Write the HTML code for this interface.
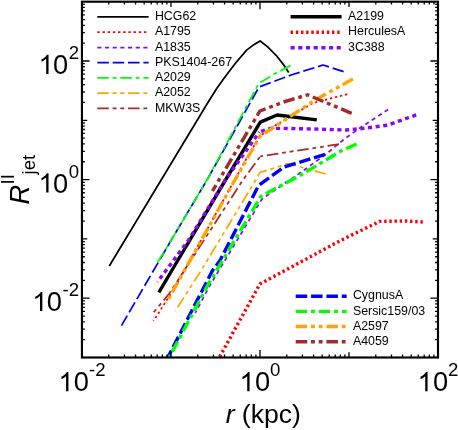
<!DOCTYPE html>
<html><head><meta charset="utf-8"><title>R_jet vs r</title>
<style>
html,body{margin:0;padding:0;background:#fff;}
body{width:458px;height:430px;overflow:hidden;}
svg{display:block;will-change:transform;}
text{font-family:"Liberation Sans",sans-serif;fill:#000;}
.c{fill:none;stroke-linecap:butt;stroke-linejoin:round;}
.t{stroke:#000;stroke-width:1.3;}
</style></head><body>
<svg width="458" height="430" viewBox="0 0 458 430">
<defs><clipPath id="cp"><rect x="81.95" y="1.70" width="356.05" height="355.80"/></clipPath></defs>
<g clip-path="url(#cp)">
<path class="c" d="M288.7,72.6 L283.1,64.1 L276.1,55.3 L267.4,46.6 L260.1,41.0 L252.6,45.6 L246.6,50.1 L236.0,62.5 L225.5,76.3 L216.7,88.5 L207.0,104.0 L109.3,266.0" stroke="#000" stroke-width="1.75"/>
<path class="c" d="M347.3,94.2 L313.0,103.0 L275.3,125.4 L259.9,136.0 L246.6,158.5 L174.2,288.5 L153.4,321.1" stroke="#ff0000" stroke-width="1.75" stroke-dasharray="2.40,2.78"/>
<path class="c" d="M388.1,109.6 L359.8,128.0 L345.0,138.6 L326.4,153.8 L307.8,167.5 L262.0,199.0 L210.0,285.2 L195.2,313.0" stroke="#8808f6" stroke-width="1.75" stroke-dasharray="4.10,3.58"/>
<path class="c" d="M343.6,71.6 L323.0,65.0 L291.0,75.0 L259.0,87.0 L207.0,180.0 L171.3,240.0 L120.4,327.4" stroke="#0000ff" stroke-width="1.75" stroke-dasharray="11.52,3.84"/>
<path class="c" d="M290.5,65.6 L274.6,73.8 L258.8,83.5 L207.0,180.0 L171.3,240.0 L155.8,265.3" stroke="#00ff00" stroke-width="1.75" stroke-dasharray="11.52,3.84,3.84,3.84"/>
<path class="c" d="M325.7,174.0 L288.6,163.6 L259.9,172.4 L255.8,180.0 L201.4,270.0 L175.3,311.0" stroke="#ffa500" stroke-width="1.75" stroke-dasharray="11.52,3.84,3.84,3.84,3.84,3.84"/>
<path class="c" d="M339.0,144.2 L260.3,156.3" stroke="#a52a2a" stroke-width="1.75" stroke-dasharray="11.52,3.84,3.84,3.84,3.84,3.84"/>
<path class="c" d="M260.3,156.3 L242.8,180.2 L204.4,239.5 L169.3,293.5 L153.8,312.2" stroke="#a52a2a" stroke-width="1.75" stroke-dasharray="11.52,3.84,3.84,3.84,3.84,3.84" stroke-dashoffset="22.20"/>
<path class="c" d="M316.8,119.9 L277.1,115.0 L260.3,122.1 L225.5,180.0 L172.1,270.0 L158.9,292.4" stroke="#000" stroke-width="3.40"/>
<path class="c" d="M422.8,222.0 L406.0,221.0 L379.7,221.4 L340.0,240.8 L320.0,251.6 L259.9,284.0 L240.0,320.0 L219.3,357.5" stroke="#ff0000" stroke-width="3.40" stroke-dasharray="2.40,2.78"/>
<path class="c" d="M416.2,114.9 L387.5,125.2 L362.0,128.6 L346.0,130.0 L320.0,129.2 L282.0,128.3 L270.0,128.5 L259.4,132.0" stroke="#8808f6" stroke-width="3.40" stroke-dasharray="4.10,3.58"/>
<path class="c" d="M259.4,132.0 L225.3,180.0 L188.6,240.0 L157.4,282.1" stroke="#8808f6" stroke-width="3.40" stroke-dasharray="4.10,3.58" stroke-dashoffset="3.20"/>
<path class="c" d="M325.0,154.4 L284.2,167.0 L258.6,185.5 L220.0,260.5 L212.8,270.0 L167.8,357.5" stroke="#0000ff" stroke-width="3.40" stroke-dasharray="11.52,3.84"/>
<path class="c" d="M356.6,144.0 L340.0,151.5 L308.3,170.6 L293.7,178.8 L260.8,196.5 L207.7,285.2 L169.2,357.5" stroke="#00ff00" stroke-width="3.40" stroke-dasharray="11.52,3.84,3.84,3.84"/>
<path class="c" d="M352.8,79.1 L315.0,100.0 L259.9,136.4 L234.9,180.0 L184.7,270.0 L166.3,302.9" stroke="#ffa500" stroke-width="3.40" stroke-dasharray="11.52,3.84,3.84,3.84,3.84,3.84"/>
<path class="c" d="M351.7,113.4 L307.6,94.8 L283.7,102.0 L259.9,111.0 L212.5,191.0" stroke="#a52a2a" stroke-width="3.40" stroke-dasharray="11.52,3.84,3.84,3.84,3.84,3.84"/>
</g>
<path class="t" fill="none" d="M108.75,357.50v-2.90 M108.75,1.70v2.90 M124.42,357.50v-2.90 M124.42,1.70v2.90 M135.54,357.50v-2.90 M135.54,1.70v2.90 M144.17,357.50v-2.90 M144.17,1.70v2.90 M151.22,357.50v-2.90 M151.22,1.70v2.90 M157.17,357.50v-2.90 M157.17,1.70v2.90 M162.34,357.50v-2.90 M162.34,1.70v2.90 M166.89,357.50v-2.90 M166.89,1.70v2.90 M170.96,357.50v-5.30 M170.96,1.70v5.30 M197.76,357.50v-2.90 M197.76,1.70v2.90 M213.43,357.50v-2.90 M213.43,1.70v2.90 M224.55,357.50v-2.90 M224.55,1.70v2.90 M233.18,357.50v-2.90 M233.18,1.70v2.90 M240.23,357.50v-2.90 M240.23,1.70v2.90 M246.19,357.50v-2.90 M246.19,1.70v2.90 M251.35,357.50v-2.90 M251.35,1.70v2.90 M255.90,357.50v-2.90 M255.90,1.70v2.90 M259.98,357.50v-7.60 M259.98,1.70v7.60 M286.77,357.50v-2.90 M286.77,1.70v2.90 M302.44,357.50v-2.90 M302.44,1.70v2.90 M313.57,357.50v-2.90 M313.57,1.70v2.90 M322.19,357.50v-2.90 M322.19,1.70v2.90 M329.24,357.50v-2.90 M329.24,1.70v2.90 M335.20,357.50v-2.90 M335.20,1.70v2.90 M340.36,357.50v-2.90 M340.36,1.70v2.90 M344.91,357.50v-2.90 M344.91,1.70v2.90 M348.99,357.50v-5.30 M348.99,1.70v5.30 M375.78,357.50v-2.90 M375.78,1.70v2.90 M391.46,357.50v-2.90 M391.46,1.70v2.90 M402.58,357.50v-2.90 M402.58,1.70v2.90 M411.20,357.50v-2.90 M411.20,1.70v2.90 M418.25,357.50v-2.90 M418.25,1.70v2.90 M424.21,357.50v-2.90 M424.21,1.70v2.90 M429.37,357.50v-2.90 M429.37,1.70v2.90 M433.93,357.50v-2.90 M433.93,1.70v2.90 M81.95,339.65h2.90 M438.00,339.65h-2.90 M81.95,329.21h2.90 M438.00,329.21h-2.90 M81.95,321.80h2.90 M438.00,321.80h-2.90 M81.95,316.05h2.90 M438.00,316.05h-2.90 M81.95,311.36h2.90 M438.00,311.36h-2.90 M81.95,307.39h2.90 M438.00,307.39h-2.90 M81.95,303.95h2.90 M438.00,303.95h-2.90 M81.95,300.91h2.90 M438.00,300.91h-2.90 M81.95,298.20h7.60 M438.00,298.20h-7.60 M81.95,280.35h2.90 M438.00,280.35h-2.90 M81.95,269.91h2.90 M438.00,269.91h-2.90 M81.95,262.50h2.90 M438.00,262.50h-2.90 M81.95,256.75h2.90 M438.00,256.75h-2.90 M81.95,252.06h2.90 M438.00,252.06h-2.90 M81.95,248.09h2.90 M438.00,248.09h-2.90 M81.95,244.65h2.90 M438.00,244.65h-2.90 M81.95,241.61h2.90 M438.00,241.61h-2.90 M81.95,238.90h5.30 M438.00,238.90h-5.30 M81.95,221.05h2.90 M438.00,221.05h-2.90 M81.95,210.61h2.90 M438.00,210.61h-2.90 M81.95,203.20h2.90 M438.00,203.20h-2.90 M81.95,197.45h2.90 M438.00,197.45h-2.90 M81.95,192.76h2.90 M438.00,192.76h-2.90 M81.95,188.79h2.90 M438.00,188.79h-2.90 M81.95,185.35h2.90 M438.00,185.35h-2.90 M81.95,182.31h2.90 M438.00,182.31h-2.90 M81.95,179.60h7.60 M438.00,179.60h-7.60 M81.95,161.75h2.90 M438.00,161.75h-2.90 M81.95,151.31h2.90 M438.00,151.31h-2.90 M81.95,143.90h2.90 M438.00,143.90h-2.90 M81.95,138.15h2.90 M438.00,138.15h-2.90 M81.95,133.46h2.90 M438.00,133.46h-2.90 M81.95,129.49h2.90 M438.00,129.49h-2.90 M81.95,126.05h2.90 M438.00,126.05h-2.90 M81.95,123.01h2.90 M438.00,123.01h-2.90 M81.95,120.30h5.30 M438.00,120.30h-5.30 M81.95,102.45h2.90 M438.00,102.45h-2.90 M81.95,92.01h2.90 M438.00,92.01h-2.90 M81.95,84.60h2.90 M438.00,84.60h-2.90 M81.95,78.85h2.90 M438.00,78.85h-2.90 M81.95,74.16h2.90 M438.00,74.16h-2.90 M81.95,70.19h2.90 M438.00,70.19h-2.90 M81.95,66.75h2.90 M438.00,66.75h-2.90 M81.95,63.71h2.90 M438.00,63.71h-2.90 M81.95,61.00h7.60 M438.00,61.00h-7.60 M81.95,43.15h2.90 M438.00,43.15h-2.90 M81.95,32.71h2.90 M438.00,32.71h-2.90 M81.95,25.30h2.90 M438.00,25.30h-2.90 M81.95,19.55h2.90 M438.00,19.55h-2.90 M81.95,14.86h2.90 M438.00,14.86h-2.90 M81.95,10.89h2.90 M438.00,10.89h-2.90 M81.95,7.45h2.90 M438.00,7.45h-2.90 M81.95,4.41h2.90 M438.00,4.41h-2.90"/>
<rect x="81.95" y="1.70" width="356.05" height="355.80" fill="none" stroke="#000" stroke-width="2.15"/>
<path class="c" d="M97.3,16.8H148.6" stroke="#000" stroke-width="1.75"/>
<text x="154.9" y="19.9" font-size="12.4">HCG62</text>
<path class="c" d="M97.3,32.1H148.6" stroke="#ff0000" stroke-width="1.75" stroke-dasharray="2.40,2.78"/>
<text x="154.9" y="35.2" font-size="12.4">A1795</text>
<path class="c" d="M97.3,47.5H148.6" stroke="#8808f6" stroke-width="1.75" stroke-dasharray="4.10,3.58"/>
<text x="154.9" y="50.6" font-size="12.4">A1835</text>
<path class="c" d="M97.3,62.6H148.6" stroke="#0000ff" stroke-width="1.75" stroke-dasharray="11.52,3.84"/>
<text x="154.9" y="65.7" font-size="12.4">PKS1404-267</text>
<path class="c" d="M97.3,77.8H148.6" stroke="#00ff00" stroke-width="1.75" stroke-dasharray="11.52,3.84,3.84,3.84"/>
<text x="154.9" y="80.9" font-size="12.4">A2029</text>
<path class="c" d="M97.3,93.0H148.6" stroke="#ffa500" stroke-width="1.75" stroke-dasharray="11.52,3.84,3.84,3.84,3.84,3.84"/>
<text x="154.9" y="96.1" font-size="12.4">A2052</text>
<path class="c" d="M97.3,108.4H148.6" stroke="#a52a2a" stroke-width="1.75" stroke-dasharray="11.52,3.84,3.84,3.84,3.84,3.84"/>
<text x="154.9" y="111.5" font-size="12.4">MKW3S</text>
<path class="c" d="M290.6,16.8H341.6" stroke="#000" stroke-width="3.40"/>
<text x="348.1" y="19.9" font-size="12.4">A2199</text>
<path class="c" d="M290.6,32.3H341.6" stroke="#ff0000" stroke-width="3.40" stroke-dasharray="2.40,2.78"/>
<text x="348.1" y="35.4" font-size="12.4">HerculesA</text>
<path class="c" d="M290.6,47.7H341.6" stroke="#8808f6" stroke-width="3.40" stroke-dasharray="4.10,3.58"/>
<text x="348.1" y="50.8" font-size="12.4">3C388</text>
<path class="c" d="M295.7,296.3H346.7" stroke="#0000ff" stroke-width="3.40" stroke-dasharray="11.52,3.84"/>
<text x="352.9" y="299.4" font-size="12.4">CygnusA</text>
<path class="c" d="M295.7,311.4H346.7" stroke="#00ff00" stroke-width="3.40" stroke-dasharray="11.52,3.84,3.84,3.84"/>
<text x="352.9" y="314.5" font-size="12.4">Sersic159/03</text>
<path class="c" d="M295.7,326.5H346.7" stroke="#ffa500" stroke-width="3.40" stroke-dasharray="11.52,3.84,3.84,3.84,3.84,3.84"/>
<text x="352.9" y="329.6" font-size="12.4">A2597</text>
<path class="c" d="M295.7,341.8H346.7" stroke="#a52a2a" stroke-width="3.40" stroke-dasharray="11.52,3.84,3.84,3.84,3.84,3.84"/>
<text x="352.9" y="344.9" font-size="12.4">A4059</text>
<path d="M763 0H583V1147Q518 1085 412.5 1023T223 930V1104Q373 1174.5 485 1275T644 1466H763Z" transform="translate(38.54,73.90) scale(0.01310,-0.01310)"/><text x="52.97" y="73.9" font-size="27.3">0<tspan font-size="18.6" dx="0.5" dy="-14.9">2</tspan></text>
<path d="M763 0H583V1147Q518 1085 412.5 1023T223 930V1104Q373 1174.5 485 1275T644 1466H763Z" transform="translate(38.54,192.50) scale(0.01310,-0.01310)"/><text x="52.97" y="192.5" font-size="27.3">0<tspan font-size="18.6" dx="0.5" dy="-14.9">0</tspan></text>
<path d="M763 0H583V1147Q518 1085 412.5 1023T223 930V1104Q373 1174.5 485 1275T644 1466H763Z" transform="translate(32.35,311.10) scale(0.01310,-0.01310)"/><text x="46.78" y="311.1" font-size="27.3">0<tspan font-size="18.6" dx="0.5" dy="-14.9">-2</tspan></text>
<path d="M763 0H583V1147Q518 1085 412.5 1023T223 930V1104Q373 1174.5 485 1275T644 1466H763Z" transform="translate(58.45,391.30) scale(0.01310,-0.01310)"/><text x="73.78" y="391.3" font-size="27.3">0<tspan font-size="18.6" dx="0.0" dy="-14.9">-2</tspan></text>
<path d="M763 0H583V1147Q518 1085 412.5 1023T223 930V1104Q373 1174.5 485 1275T644 1466H763Z" transform="translate(239.57,391.30) scale(0.01310,-0.01310)"/><text x="254.90" y="391.3" font-size="27.3">0<tspan font-size="18.6" dx="0.0" dy="-14.9">0</tspan></text>
<path d="M763 0H583V1147Q518 1085 412.5 1023T223 930V1104Q373 1174.5 485 1275T644 1466H763Z" transform="translate(417.59,391.30) scale(0.01310,-0.01310)"/><text x="432.93" y="391.3" font-size="27.3">0<tspan font-size="18.6" dx="0.0" dy="-14.9">2</tspan></text>
<text x="263.3" y="422.6" font-size="26.6" text-anchor="middle"><tspan font-style="italic">r</tspan> (kpc)</text>
<g transform="translate(29.3,204.5) rotate(-90)"><text x="0" y="0" font-size="27.3" font-style="italic">R</text><text x="20.0" y="-15.1" font-size="18.6">II</text><text x="30.0" y="5.5" font-size="18.6">jet</text></g>
</svg>
</body></html>
